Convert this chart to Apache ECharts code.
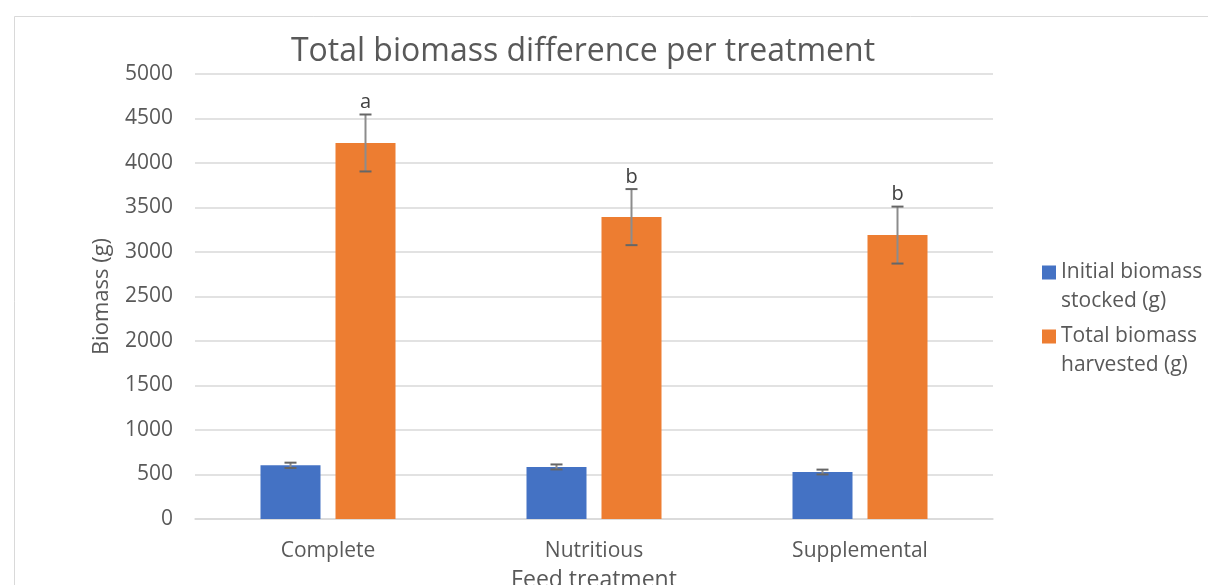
<!DOCTYPE html>
<html>
<head>
<meta charset="utf-8">
<script src="https://cdn.jsdelivr.net/npm/echarts@6/dist/echarts.min.js"></script>
<style>
html,body{margin:0;padding:0;background:#fff;}
#chart{width:1208px;height:585px;}
</style>
</head>
<body>
<div id="chart"></div>
<script>
const categories = ['Complete', 'Nutritious', 'Supplemental'];
const initialBiomass = [603, 585, 528];
const initialErr = [30, 28, 27];
const totalBiomass = [4225, 3392, 3190];
const totalErr = [320, 315, 320];
const letters = ['a', 'b', 'b'];
const yTicks = {min: 0, max: 5000, interval: 500};

const FONT = '"Open Sans", sans-serif';
const TXT = '#595959';
const BAR_W = 60;
const BAR_GAP = 15;
const half = (BAR_W + BAR_GAP) / 2;

function errSeries(means, errs, offset, labels) {
  return {
    type: 'custom',
    silent: true,
    z: 10,
    data: means.map((m, i) => [i, m, errs[i]]),
    renderItem: function (params, api) {
      const i = api.value(0);
      const m = api.value(1);
      const e = api.value(2);
      const top = api.coord([i, m + e]);
      const bot = api.coord([i, m - e]);
      const x = top[0] + offset;
      const cap = 6;
      const children = [
        {type: 'line', shape: {x1: x, y1: top[1], x2: x, y2: bot[1]}, style: {stroke: '#8c8c8c', lineWidth: 2}},
        {type: 'line', shape: {x1: x - cap, y1: top[1], x2: x + cap, y2: top[1]}, style: {stroke: '#666666', lineWidth: 2}},
        {type: 'line', shape: {x1: x - cap, y1: bot[1], x2: x + cap, y2: bot[1]}, style: {stroke: '#666666', lineWidth: 2}}
      ];
      if (labels) {
        children.push({type: 'text', style: {x: x, y: top[1] - 2, text: labels[i], fill: '#404040', font: '20px ' + FONT, align: 'center', verticalAlign: 'bottom'}});
      }
      return {type: 'group', children: children};
    }
  };
}

const chart = echarts.init(document.getElementById('chart'));
chart.setOption({
  animation: false,
  backgroundColor: '#fff',
  graphic: [{
    type: 'rect', left: 12, top: 14, z: -1,
    shape: {width: 1400, height: 800},
    style: {fill: 'none', stroke: '#d9d9d9', lineWidth: 1}
  }],
  title: {
    text: 'Total biomass difference per treatment',
    left: 578, top: 31, textAlign: 'center',
    textStyle: {fontFamily: FONT, fontSize: 32, fontWeight: 'normal', color: '#595959'}
  },
  legend: {
    orient: 'vertical',
    left: 1037, top: 253,
    itemWidth: 14, itemHeight: 58, itemGap: 6,
    icon: 'path://M0,0H0.05V0.05H0Z M0,7.5H14V21.5H0Z M13.95,57.95H14V58H13.95Z',
    textStyle: {fontFamily: FONT, fontSize: 21, color: TXT, lineHeight: 29},
    data: ['Initial biomass\nstocked (g)', 'Total biomass\nharvested (g)']
  },
  grid: {left: 195, right: 215, top: 74, bottom: 66, containLabel: false, outerBoundsMode: 'none'},
  xAxis: {
    type: 'category',
    data: categories,
    name: 'Feed treatment',
    nameLocation: 'middle',
    nameGap: 50,
    nameTextStyle: {fontFamily: FONT, fontSize: 23, color: TXT},
    axisLine: {lineStyle: {color: '#d9d9d9', width: 1.5}},
    axisTick: {show: false},
    axisLabel: {fontFamily: FONT, fontSize: 21, color: TXT, margin: 22}
  },
  yAxis: {
    type: 'value',
    min: yTicks.min, max: yTicks.max, interval: yTicks.interval,
    name: 'Biomass (g)',
    nameLocation: 'middle',
    nameGap: 82,
    nameRotate: 90,
    nameTextStyle: {fontFamily: FONT, fontSize: 22, color: TXT},
    axisLine: {show: false},
    axisTick: {show: false},
    splitLine: {lineStyle: {color: '#d9d9d9', width: 1.5}},
    axisLabel: {fontFamily: FONT, fontSize: 21, color: TXT, margin: 22, formatter: v => String(v)}
  },
  series: [
    {name: 'Initial biomass\nstocked (g)', type: 'bar', data: initialBiomass, barWidth: BAR_W, barGap: (BAR_GAP / BAR_W * 100) + '%', itemStyle: {color: '#4472c4'}},
    {name: 'Total biomass\nharvested (g)', type: 'bar', data: totalBiomass, barWidth: BAR_W, itemStyle: {color: '#ed7d31'}},
    errSeries(initialBiomass, initialErr, -half, null),
    errSeries(totalBiomass, totalErr, half, letters)
  ]
});
</script>
</body>
</html>
